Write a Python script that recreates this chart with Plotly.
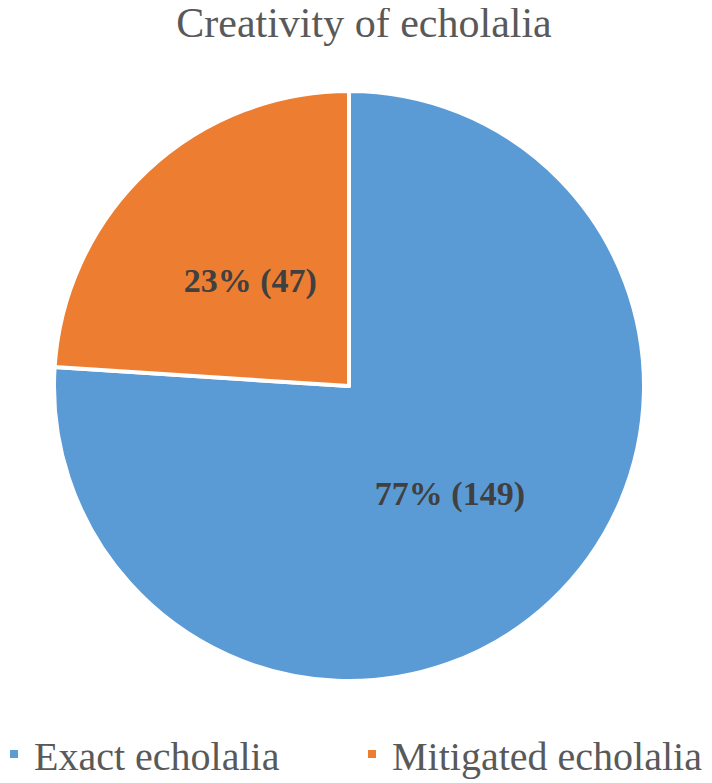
import plotly.graph_objects as go

categories = ["Exact echolalia", "Mitigated echolalia"]
counts = [149, 47]
pct_labels = ["77%", "23%"]
colors = ["#5B9BD5", "#ED7D31"]

texts = [f"{p} ({c})" for p, c in zip(pct_labels, counts)]

W, H = 712, 783
MB = 60                 # bottom margin reserved for the legend
PH = H - MB             # plot-area height
cx, cy, R = 341, 378, 295   # pie centre / radius in figure pixels


def dom(r):
    return dict(x=[(cx - r) / W, (cx + r) / W], y=[1 - (cy + r) / PH, 1 - (cy - r) / PH])


label_font = dict(family="Liberation Serif", size=34, color="#404040", weight="bold")

fig = go.Figure()
# main pie, carries the large-slice label
fig.add_trace(go.Pie(
    labels=categories,
    values=counts,
    text=[texts[0], ""],
    textinfo="text",
    textposition="inside",
    insidetextorientation="horizontal",
    textfont=label_font,
    marker=dict(colors=colors, line=dict(color="white", width=4)),
    sort=False,
    direction="clockwise",
    rotation=0,
    hoverinfo="label+value",
    domain=dom(R),
))
# transparent overlay pie (same data) that places the small-slice label closer to the centre
fig.add_trace(go.Pie(
    labels=categories,
    values=counts,
    text=["", texts[1]],
    textinfo="text",
    textposition="inside",
    insidetextorientation="horizontal",
    textfont=label_font,
    marker=dict(colors=["rgba(0,0,0,0)", "rgba(0,0,0,0)"], line=dict(width=0)),
    sort=False,
    direction="clockwise",
    rotation=0,
    hoverinfo="skip",
    showlegend=False,
    domain=dom(R * 0.823),
))

fig.update_layout(
    width=W, height=H,
    margin=dict(l=0, r=0, t=0, b=MB, autoexpand=False),
    paper_bgcolor="white",
    title=dict(text="Creativity of echolalia", x=0.5, xanchor="center", y=1, yanchor="top",
               font=dict(family="Liberation Serif", size=42, color="#595959")),
    legend=dict(orientation="h", x=-14 / W, xanchor="left", y=1 - 746 / PH, yanchor="middle",
                font=dict(family="Liberation Serif", size=40, color="#595959"),
                entrywidth=313),
)

fig.write_html("out.html")
